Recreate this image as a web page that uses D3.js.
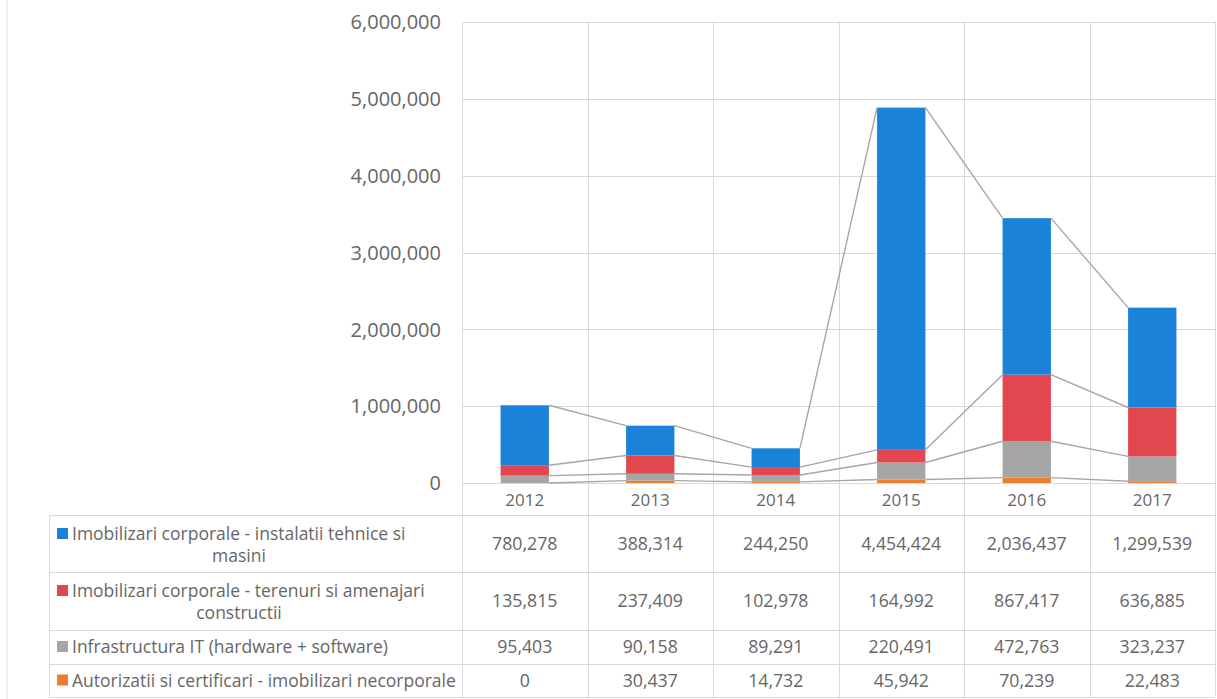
<!DOCTYPE html>
<meta charset="utf-8">
<style>
  body { margin: 0; background: #fff; }
  svg { font-family: "Open Sans", sans-serif; }
  .grid line { stroke: #d9d9d9; stroke-width: 1; }
  .tick-label { fill: #666; font-size: 20px; }
  .cat { fill: #666; font-size: 17px; }
  .cell { fill: #666; font-size: 17.7px; }
  .leg { fill: #666; font-size: 17.5px; }
  .sline { stroke: #a6a6a6; stroke-width: 1.4; fill: none; }
</style>
<body></body>
<script src="https://cdn.jsdelivr.net/npm/d3@7"></script>
<script>
  const categories = ['2012', '2013', '2014', '2015', '2016', '2017'];
  const instalatii = [780278, 388314, 244250, 4454424, 2036437, 1299539];
  const terenuri = [135815, 237409, 102978, 164992, 867417, 636885];
  const infraIT = [95403, 90158, 89291, 220491, 472763, 323237];
  const autorizatii = [0, 30437, 14732, 45942, 70239, 22483];
  const yTicks = [0, 1000000, 2000000, 3000000, 4000000, 5000000, 6000000];

  // table order (top to bottom); label lines as they wrap in the original
  const series = [
    {name: ['Imobilizari corporale - instalatii tehnice si', 'masini'], values: instalatii, color: '#1a82d8'},
    {name: ['Imobilizari corporale - terenuri si amenajari', 'constructii'], values: terenuri, color: '#e2474f'},
    {name: ['Infrastructura IT (hardware + software)'], values: infraIT, color: '#a5a5a5'},
    {name: ['Autorizatii si certificari - imobilizari necorporale'], values: autorizatii, color: '#ed7d31'}
  ];

  const W = 1217, H = 699;
  const l = 462, r = 1215, t = 22, b = 483;
  const tableL = 49;
  const rowEdges = [515, 572, 630, 664, 697];

  const svg = d3.select('body').append('svg').attr('width', W).attr('height', H);

  const x = d3.scaleBand().domain(categories).range([l, r]);
  const y = d3.scaleLinear().domain([0, 6000000]).range([b, t]);
  const barW = x.bandwidth() * 0.385;
  const fmt = d3.format(',');

  // frame line on the far left
  svg.append('line').attr('x1', 7).attr('x2', 7).attr('y1', 0).attr('y2', H)
    .attr('stroke', '#e3e3e3');

  const grid = svg.append('g').attr('class', 'grid');
  grid.selectAll('line.h')
    .data(yTicks)
    .join('line').attr('class', 'h')
    .attr('x1', l).attr('x2', r)
    .attr('y1', d => Math.round(y(d)) + 0.5).attr('y2', d => Math.round(y(d)) + 0.5);

  const bounds = categories.map(c => x(c)).concat([r]);
  grid.selectAll('line.v')
    .data(bounds)
    .join('line').attr('class', 'v')
    .attr('x1', d => Math.round(d) + 0.5).attr('x2', d => Math.round(d) + 0.5)
    .attr('y1', t).attr('y2', rowEdges[rowEdges.length - 1]);

  // table horizontal lines + left edge
  grid.selectAll('line.row')
    .data(rowEdges)
    .join('line').attr('class', 'row')
    .attr('x1', tableL).attr('x2', r)
    .attr('y1', d => d + 0.5).attr('y2', d => d + 0.5);
  grid.append('line')
    .attr('x1', tableL + 0.5).attr('x2', tableL + 0.5)
    .attr('y1', rowEdges[0]).attr('y2', rowEdges[rowEdges.length - 1]);

  // y axis labels
  svg.append('g').selectAll('text')
    .data(yTicks)
    .join('text').attr('class', 'tick-label')
    .attr('x', 441).attr('y', d => y(d))
    .attr('dy', '0.36em')
    .attr('text-anchor', 'end')
    .text(d => fmt(d));

  // stack bottom -> top
  const stackOrder = series.slice().reverse();
  const stacked = stackOrder.map(s => ({s, segs: []}));
  categories.forEach((c, i) => {
    let acc = 0;
    stacked.forEach(st => {
      st.segs.push({cat: c, y0: acc, y1: acc + st.s.values[i]});
      acc += st.s.values[i];
    });
  });

  const bars = svg.append('g');
  stacked.forEach(st => {
    bars.append('g').attr('fill', st.s.color)
      .selectAll('rect')
      .data(st.segs)
      .join('rect')
      .attr('x', d => x(d.cat) + x.bandwidth() / 2 - barW / 2)
      .attr('width', barW)
      .attr('y', d => y(d.y1))
      .attr('height', d => y(d.y0) - y(d.y1));
  });

  // series lines between bar tops
  const lines = svg.append('g');
  stacked.forEach(st => {
    const pairs = d3.pairs(st.segs);
    lines.selectAll(null)
      .data(pairs)
      .join('line').attr('class', 'sline')
      .attr('x1', d => x(d[0].cat) + x.bandwidth() / 2 + barW / 2)
      .attr('y1', d => y(d[0].y1))
      .attr('x2', d => x(d[1].cat) + x.bandwidth() / 2 - barW / 2)
      .attr('y2', d => y(d[1].y1));
  });

  // category labels
  svg.append('g').selectAll('text')
    .data(categories)
    .join('text').attr('class', 'cat')
    .attr('x', d => x(d) + x.bandwidth() / 2)
    .attr('y', 506)
    .attr('text-anchor', 'middle')
    .text(d => d);

  // data table
  series.forEach((s, i) => {
    const top = rowEdges[i], bot = rowEdges[i + 1];
    const mid = (top + bot) / 2;
    const g = svg.append('g');
    const two = s.name.length > 1;
    const line1Y = two ? top + 25 : mid + 6;
    g.append('rect')
      .attr('x', 57).attr('y', line1Y - 12)
      .attr('width', 11).attr('height', 11)
      .attr('fill', s.color);
    g.append('text').attr('class', 'leg')
      .attr('x', 72).attr('y', line1Y)
      .text(s.name[0]);
    if (two) {
      g.append('text').attr('class', 'leg')
        .attr('x', 239).attr('y', line1Y + 22)
        .attr('text-anchor', 'middle')
        .text(s.name[1]);
    }
    g.selectAll('text.cell')
      .data(s.values)
      .join('text').attr('class', 'cell')
      .attr('x', (d, j) => x(categories[j]) + x.bandwidth() / 2)
      .attr('y', mid + 6)
      .attr('text-anchor', 'middle')
      .text(d => fmt(d));
  });
</script>
